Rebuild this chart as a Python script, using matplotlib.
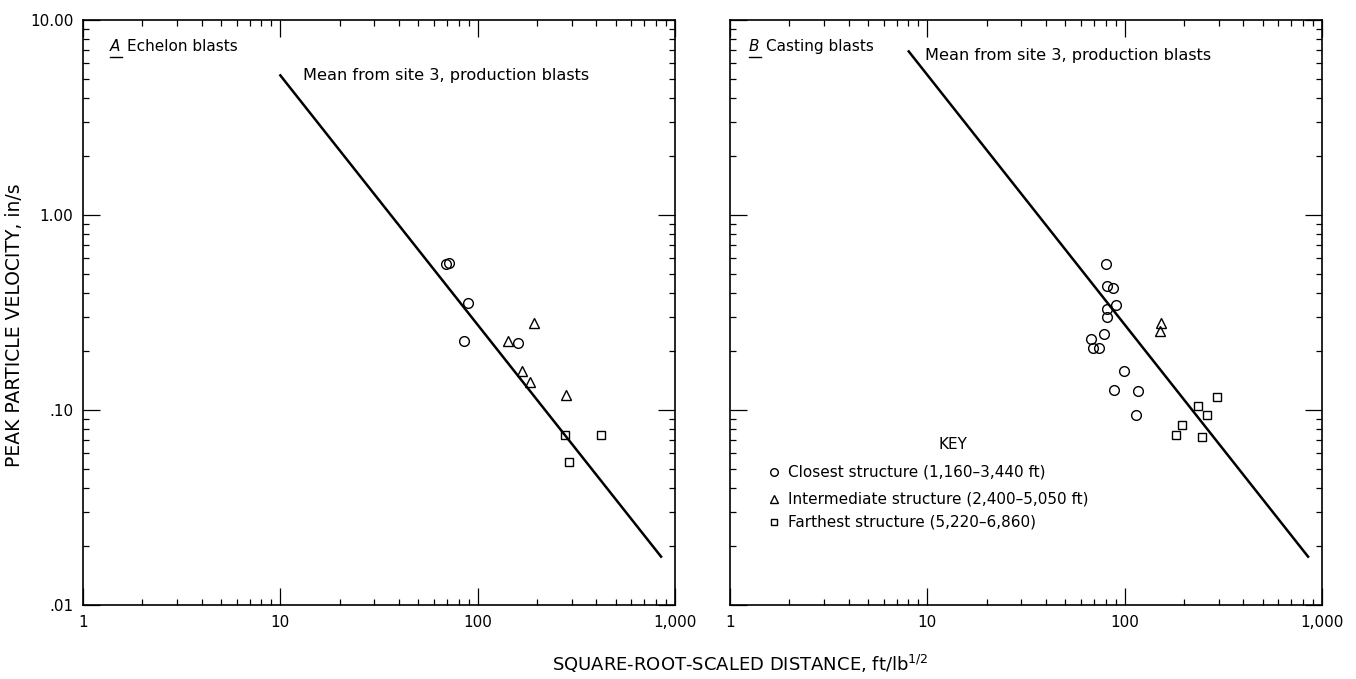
import matplotlib
matplotlib.use("Agg")
import matplotlib.pyplot as plt
from matplotlib.ticker import FixedLocator, FixedFormatter, NullFormatter
from matplotlib.lines import Line2D

plt.rcParams['font.family'] = ['DejaVu Sans']

# Panel A: echelon blasts
a_closest_x = [69.4, 71.3, 89.3, 85.6, 161]
a_closest_y = [0.56, 0.566, 0.355, 0.227, 0.220]
a_inter_x = [192, 142, 167, 185, 280]
a_inter_y = [0.279, 0.227, 0.159, 0.139, 0.119]
a_far_x = [277, 421, 290]
a_far_y = [0.0746, 0.0746, 0.054]

# Panel B: casting blasts
b_closest_x = [80.4, 81.7, 87.3, 90.7, 81.0, 81.7, 78.5, 67.7, 69.1, 74.1,
               99.2, 88.3, 117.4, 113.7]
b_closest_y = [0.56, 0.43, 0.42, 0.347, 0.33, 0.30, 0.244, 0.230, 0.209, 0.207,
               0.158, 0.126, 0.125, 0.094]
b_inter_x = [152, 151]
b_inter_y = [0.281, 0.255]
b_far_x = [294, 234, 262, 196, 182, 246]
b_far_y = [0.116, 0.105, 0.094, 0.0836, 0.074, 0.073]

# Mean regression line from site 3 production blasts (end points)
mean_a_x = [10, 850]
mean_a_y = [5.2, 0.0177]
mean_b_x = [8.05, 850]
mean_b_y = [6.9, 0.0177]

x_ticks = [1, 10, 100, 1000]
x_tick_labels = ["1", "10", "100", "1,000"]
y_ticks = [0.01, 0.1, 1, 10]
y_tick_labels = [".01", ".10", "1.00", "10.00"]

legend_labels = ["Closest structure (1,160\u20133,440 ft)",
                 "Intermediate structure (2,400\u20135,050 ft)",
                 "Farthest structure (5,220\u20136,860)"]

W, H = 1356, 679
fig = plt.figure(figsize=(W / 100, H / 100), dpi=100)

ax_l, ax_r = 83, 730
ax_w, ax_top, ax_bot = 592, 20, 605
axA = fig.add_axes([ax_l / W, 1 - ax_bot / H, ax_w / W, (ax_bot - ax_top) / H])
axB = fig.add_axes([ax_r / W, 1 - ax_bot / H, ax_w / W, (ax_bot - ax_top) / H])

minor = [m * 10 ** e for e in range(-2, 3) for m in range(2, 10)]
mk = dict(linestyle="none", mfc="none", mec="black", mew=1.0)

for ax in (axA, axB):
    ax.set_xscale("log")
    ax.set_yscale("log")
    ax.set_xlim(1, 1000)
    ax.set_ylim(0.01, 10)
    ax.xaxis.set_major_locator(FixedLocator(x_ticks))
    ax.xaxis.set_major_formatter(FixedFormatter(x_tick_labels))
    ax.yaxis.set_major_locator(FixedLocator(y_ticks))
    ax.yaxis.set_major_formatter(FixedFormatter(y_tick_labels))
    ax.xaxis.set_minor_locator(FixedLocator(minor))
    ax.yaxis.set_minor_locator(FixedLocator(minor))
    ax.xaxis.set_minor_formatter(NullFormatter())
    ax.yaxis.set_minor_formatter(NullFormatter())
    ax.tick_params(which="both", direction="in", top=True, right=True,
                   width=0.9, labelsize=11, pad=7)
    ax.tick_params(which="major", length=12)
    ax.tick_params(which="minor", length=4)
    for s in ax.spines.values():
        s.set_linewidth(1.2)

axB.tick_params(labelleft=False)

# Panel A
axA.plot(mean_a_x, mean_a_y, color="black", lw=1.8)
axA.plot(a_closest_x, a_closest_y, marker="o", ms=7, **mk)
axA.plot(a_inter_x, a_inter_y, marker="^", ms=7, **mk)
axA.plot(a_far_x, a_far_y, marker="s", ms=5.5, **mk)

# Panel B
axB.plot(mean_b_x, mean_b_y, color="black", lw=1.8)
axB.plot(b_closest_x, b_closest_y, marker="o", ms=7, **mk)
axB.plot(b_inter_x, b_inter_y, marker="^", ms=7, **mk)
axB.plot(b_far_x, b_far_y, marker="s", ms=5.5, **mk)

# Panel titles with underlined italic letters
def panel_title(ax, letter, text, x, y):
    ax.text(x, y, letter, transform=ax.transAxes, fontsize=11,
            fontstyle="italic", va="center", ha="left")
    ax.text(x + 0.028, y, text, transform=ax.transAxes, fontsize=11,
            va="center", ha="left")
    ax.add_line(Line2D([x, x + 0.02], [y - 0.017, y - 0.017],
                       transform=ax.transAxes, color="black", lw=1.0))

panel_title(axA, "A", "Echelon blasts", 0.046, 0.954)
panel_title(axB, "B", "Casting blasts", 0.032, 0.954)

axA.text(0.372, 0.905, "Mean from site 3, production blasts",
         transform=axA.transAxes, fontsize=11.6, va="center", ha="left")
axB.text(0.33, 0.94, "Mean from site 3, production blasts",
         transform=axB.transAxes, fontsize=11.6, va="center", ha="left")

# Key
axB.text(0.377, 0.274, "KEY", transform=axB.transAxes, fontsize=11,
         ha="center", va="center")
key_y = [0.227, 0.181, 0.142]
for m, lab, yy, ms in zip(["o", "^", "s"], legend_labels, key_y, [5.5, 5.5, 4.5]):
    axB.plot([0.074], [yy], marker=m, ms=ms, transform=axB.transAxes, **mk)
    axB.text(0.098, yy, lab, transform=axB.transAxes, fontsize=11,
             ha="left", va="center")

fig.text(15 / W, 1 - 325 / H, "PEAK PARTICLE VELOCITY, in/s", rotation=90,
         fontsize=13.5, ha="center", va="center")
fig.text(552 / W, 1 - 664 / H, r"SQUARE-ROOT-SCALED DISTANCE, ft/lb$^{1/2}$",
         fontsize=13, ha="left", va="center")

fig.savefig("out.png", dpi=100)
